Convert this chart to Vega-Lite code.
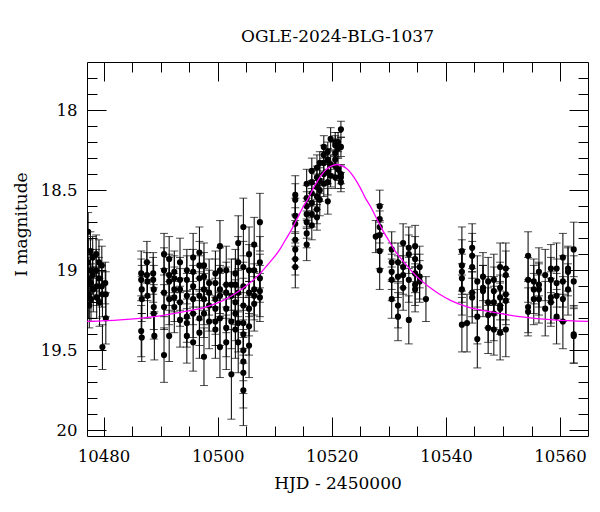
{
  "$schema": "https://vega.github.io/schema/vega-lite/v6.json",
  "autosize": {"type": "none"},
  "width": 501,
  "height": 374,
  "padding": {"left": 87, "top": 62, "right": 12, "bottom": 76},
  "background": "white",
  "title": {"text": "OGLE-2024-BLG-1037", "font": "DejaVu Serif", "fontSize": 17, "fontWeight": "normal", "color": "black", "anchor": "middle", "frame": "group", "baseline": "bottom", "offset": -1},
  "config": {
    "view": {"stroke": "black", "strokeWidth": 1},
    "axis": {"grid": false, "domain": false, "tickColor": "black", "tickWidth": 1, "labelFont": "DejaVu Serif", "labelFontSize": 16.5, "labelColor": "black", "labelFlush": false, "labelOverlap": false, "titleFont": "DejaVu Serif", "titleFontSize": 17, "titleFontWeight": "normal", "titleColor": "black"}
  },
  "datasets": {
    "obs": [
      {"t":10477.3,"m":18.76,"e":0.12},{"t":10477.3,"m":18.95,"e":0.14},{"t":10477.4,"m":19.05,"e":0.13},{"t":10477.4,"m":19.15,"e":0.15},{"t":10477.5,"m":19.22,"e":0.14},
      {"t":10477.7,"m":18.88,"e":0.12},{"t":10477.7,"m":19.00,"e":0.13},{"t":10477.8,"m":19.08,"e":0.12},{"t":10477.8,"m":19.18,"e":0.14},
      {"t":10478.1,"m":18.92,"e":0.13},{"t":10478.1,"m":19.03,"e":0.12},{"t":10478.2,"m":19.12,"e":0.14},
      {"t":10478.7,"m":18.90,"e":0.12},{"t":10478.7,"m":19.00,"e":0.13},{"t":10478.8,"m":19.10,"e":0.12},{"t":10478.8,"m":19.17,"e":0.13},
      {"t":10479.2,"m":18.95,"e":0.14},{"t":10479.2,"m":19.05,"e":0.13},{"t":10479.3,"m":19.20,"e":0.15},
      {"t":10479.7,"m":18.97,"e":0.12},{"t":10479.7,"m":19.10,"e":0.13},{"t":10479.8,"m":19.15,"e":0.14},{"t":10479.8,"m":19.48,"e":0.14},
      {"t":10480.3,"m":19.08,"e":0.13},{"t":10480.4,"m":19.15,"e":0.14},{"t":10480.4,"m":19.30,"e":0.16},
      {"t":10486.6,"m":19.02,"e":0.14},{"t":10486.6,"m":19.06,"e":0.13},{"t":10486.7,"m":19.12,"e":0.15},{"t":10486.7,"m":19.18,"e":0.14},{"t":10486.6,"m":19.38,"e":0.16},{"t":10486.7,"m":19.42,"e":0.15},
      {"t":10487.6,"m":18.95,"e":0.13},{"t":10487.6,"m":19.03,"e":0.14},{"t":10487.7,"m":19.07,"e":0.12},{"t":10487.7,"m":19.16,"e":0.14},
      {"t":10488.7,"m":19.02,"e":0.13},{"t":10488.7,"m":19.06,"e":0.14},{"t":10488.8,"m":19.12,"e":0.15},{"t":10488.8,"m":19.23,"e":0.14},{"t":10488.8,"m":19.27,"e":0.16},{"t":10488.9,"m":19.41,"e":0.15},
      {"t":10490.6,"m":18.90,"e":0.13},{"t":10490.6,"m":19.00,"e":0.14},{"t":10490.6,"m":19.14,"e":0.15},{"t":10490.6,"m":19.23,"e":0.14},{"t":10490.6,"m":19.53,"e":0.17},
      {"t":10491.5,"m":18.93,"e":0.14},{"t":10491.5,"m":19.03,"e":0.13},{"t":10491.5,"m":19.07,"e":0.15},{"t":10491.5,"m":19.18,"e":0.16},{"t":10491.5,"m":19.41,"e":0.16},
      {"t":10492.4,"m":19.01,"e":0.13},{"t":10492.4,"m":19.05,"e":0.14},{"t":10492.4,"m":19.12,"e":0.14},{"t":10492.4,"m":19.17,"e":0.15},{"t":10492.4,"m":19.23,"e":0.16},
      {"t":10493.4,"m":18.95,"e":0.15},{"t":10493.4,"m":19.06,"e":0.14},{"t":10493.4,"m":19.12,"e":0.13},{"t":10493.4,"m":19.20,"e":0.15},{"t":10493.4,"m":19.31,"e":0.17},
      {"t":10494.6,"m":19.00,"e":0.13},{"t":10494.6,"m":19.06,"e":0.15},{"t":10494.6,"m":19.16,"e":0.14},{"t":10494.6,"m":19.29,"e":0.16},{"t":10494.6,"m":19.33,"e":0.15},{"t":10494.6,"m":19.41,"e":0.17},
      {"t":10495.7,"m":18.92,"e":0.15},{"t":10495.7,"m":19.01,"e":0.14},{"t":10495.7,"m":19.10,"e":0.13},{"t":10495.7,"m":19.18,"e":0.16},{"t":10495.7,"m":19.27,"e":0.15},{"t":10495.7,"m":19.45,"e":0.18},
      {"t":10496.8,"m":18.89,"e":0.16},{"t":10496.8,"m":18.97,"e":0.15},{"t":10496.8,"m":19.05,"e":0.14},{"t":10496.8,"m":19.16,"e":0.15},{"t":10496.8,"m":19.30,"e":0.17},{"t":10496.8,"m":19.39,"e":0.16},
      {"t":10497.6,"m":18.97,"e":0.14},{"t":10497.6,"m":19.04,"e":0.15},{"t":10497.6,"m":19.12,"e":0.13},{"t":10497.6,"m":19.18,"e":0.16},{"t":10497.6,"m":19.27,"e":0.15},{"t":10497.6,"m":19.54,"e":0.18},
      {"t":10498.5,"m":19.08,"e":0.15},{"t":10498.5,"m":19.14,"e":0.14},{"t":10498.5,"m":19.22,"e":0.16},{"t":10498.5,"m":19.32,"e":0.17},
      {"t":10499.6,"m":19.02,"e":0.14},{"t":10499.6,"m":19.08,"e":0.15},{"t":10499.6,"m":19.18,"e":0.13},{"t":10499.6,"m":19.24,"e":0.16},{"t":10499.6,"m":19.32,"e":0.15},{"t":10499.6,"m":19.37,"e":0.18},
      {"t":10500.4,"m":18.85,"e":0.16},{"t":10500.4,"m":19.00,"e":0.14},{"t":10500.4,"m":19.12,"e":0.15},{"t":10500.4,"m":19.16,"e":0.14},{"t":10500.4,"m":19.30,"e":0.17},{"t":10500.4,"m":19.48,"e":0.19},
      {"t":10501.5,"m":19.00,"e":0.15},{"t":10501.5,"m":19.09,"e":0.14},{"t":10501.5,"m":19.14,"e":0.16},{"t":10501.5,"m":19.24,"e":0.15},{"t":10501.5,"m":19.36,"e":0.18},{"t":10501.5,"m":19.45,"e":0.17},
      {"t":10502.4,"m":19.09,"e":0.16},{"t":10502.4,"m":19.16,"e":0.15},{"t":10502.4,"m":19.32,"e":0.17},{"t":10502.4,"m":19.65,"e":0.28},
      {"t":10503.1,"m":19.02,"e":0.15},{"t":10503.1,"m":19.09,"e":0.16},{"t":10503.1,"m":19.20,"e":0.14},{"t":10503.1,"m":19.27,"e":0.17},{"t":10503.1,"m":19.37,"e":0.18},
      {"t":10503.6,"m":18.83,"e":0.17},{"t":10503.6,"m":18.95,"e":0.16},{"t":10503.6,"m":19.14,"e":0.15},{"t":10503.6,"m":19.33,"e":0.18},{"t":10503.6,"m":19.45,"e":0.19},
      {"t":10504.5,"m":18.73,"e":0.18},{"t":10504.5,"m":18.98,"e":0.16},{"t":10504.5,"m":19.10,"e":0.15},{"t":10504.5,"m":19.22,"e":0.17},{"t":10504.5,"m":19.33,"e":0.16},{"t":10504.5,"m":19.40,"e":0.18},{"t":10504.5,"m":19.50,"e":0.19},{"t":10504.5,"m":19.57,"e":0.20},{"t":10504.5,"m":19.64,"e":0.22},{"t":10504.5,"m":19.75,"e":0.22},
      {"t":10505.5,"m":18.90,"e":0.17},{"t":10505.5,"m":19.00,"e":0.16},{"t":10505.5,"m":19.14,"e":0.15},{"t":10505.5,"m":19.24,"e":0.17},{"t":10505.5,"m":19.35,"e":0.18},{"t":10505.5,"m":19.47,"e":0.20},
      {"t":10506.4,"m":18.84,"e":0.17},{"t":10506.4,"m":19.00,"e":0.15},{"t":10506.4,"m":19.12,"e":0.16},{"t":10506.4,"m":19.16,"e":0.15},{"t":10506.4,"m":19.21,"e":0.17},
      {"t":10507.4,"m":18.70,"e":0.18},{"t":10507.4,"m":18.95,"e":0.16},{"t":10507.4,"m":19.05,"e":0.15},{"t":10507.4,"m":19.13,"e":0.16},{"t":10507.4,"m":19.17,"e":0.15},
      {"t":10513.6,"m":18.53,"e":0.12},{"t":10513.6,"m":18.56,"e":0.10},{"t":10513.6,"m":18.66,"e":0.11},{"t":10513.6,"m":18.71,"e":0.10},{"t":10513.6,"m":18.81,"e":0.12},{"t":10513.6,"m":18.87,"e":0.11},{"t":10513.6,"m":18.93,"e":0.10},{"t":10513.6,"m":18.98,"e":0.13},
      {"t":10515.6,"m":18.46,"e":0.09},{"t":10515.6,"m":18.55,"e":0.08},{"t":10515.6,"m":18.60,"e":0.09},{"t":10515.6,"m":18.65,"e":0.08},{"t":10515.6,"m":18.70,"e":0.10},{"t":10515.6,"m":18.77,"e":0.09},{"t":10515.6,"m":18.84,"e":0.10},
      {"t":10516.5,"m":18.38,"e":0.08},{"t":10516.5,"m":18.45,"e":0.07},{"t":10516.5,"m":18.52,"e":0.08},{"t":10516.5,"m":18.58,"e":0.09},{"t":10516.5,"m":18.65,"e":0.08},{"t":10516.5,"m":18.72,"e":0.09},
      {"t":10517.4,"m":18.36,"e":0.08},{"t":10517.4,"m":18.42,"e":0.07},{"t":10517.4,"m":18.48,"e":0.08},{"t":10517.4,"m":18.54,"e":0.08},{"t":10517.4,"m":18.62,"e":0.09},{"t":10517.4,"m":18.67,"e":0.08},
      {"t":10517.9,"m":18.33,"e":0.07},{"t":10517.9,"m":18.44,"e":0.08},{"t":10517.9,"m":18.50,"e":0.07},{"t":10517.9,"m":18.56,"e":0.10},
      {"t":10518.6,"m":18.23,"e":0.07},{"t":10518.6,"m":18.28,"e":0.06},{"t":10518.6,"m":18.33,"e":0.07},{"t":10518.6,"m":18.40,"e":0.07},{"t":10518.6,"m":18.46,"e":0.08},
      {"t":10519.3,"m":18.26,"e":0.06},{"t":10519.3,"m":18.31,"e":0.07},{"t":10519.3,"m":18.39,"e":0.07},{"t":10519.3,"m":18.45,"e":0.08},{"t":10519.3,"m":18.57,"e":0.08},
      {"t":10519.8,"m":18.18,"e":0.07},{"t":10519.8,"m":18.34,"e":0.06},{"t":10519.8,"m":18.41,"e":0.07},
      {"t":10520.6,"m":18.20,"e":0.06},{"t":10520.6,"m":18.22,"e":0.06},{"t":10520.6,"m":18.27,"e":0.07},{"t":10520.6,"m":18.31,"e":0.06},{"t":10520.6,"m":18.35,"e":0.06},{"t":10520.6,"m":18.42,"e":0.07},
      {"t":10521.1,"m":18.20,"e":0.06},{"t":10521.1,"m":18.24,"e":0.06},{"t":10521.1,"m":18.37,"e":0.07},
      {"t":10521.6,"m":18.12,"e":0.05},{"t":10521.6,"m":18.23,"e":0.06},{"t":10521.6,"m":18.40,"e":0.06},{"t":10521.6,"m":18.42,"e":0.07},{"t":10521.6,"m":18.45,"e":0.06},
      {"t":10527.7,"m":18.79,"e":0.10},
      {"t":10528.4,"m":18.60,"e":0.10},{"t":10528.4,"m":18.68,"e":0.09},{"t":10528.4,"m":18.73,"e":0.10},{"t":10528.4,"m":18.78,"e":0.09},{"t":10528.4,"m":18.88,"e":0.11},{"t":10528.4,"m":19.00,"e":0.12},
      {"t":10530.5,"m":18.87,"e":0.11},{"t":10530.5,"m":18.95,"e":0.12},{"t":10530.5,"m":19.01,"e":0.11},{"t":10530.5,"m":19.06,"e":0.13},{"t":10530.5,"m":19.18,"e":0.12},
      {"t":10531.6,"m":18.95,"e":0.12},{"t":10531.6,"m":19.04,"e":0.13},{"t":10531.6,"m":19.22,"e":0.14},{"t":10531.6,"m":19.29,"e":0.15},
      {"t":10532.5,"m":18.83,"e":0.12},{"t":10532.5,"m":18.98,"e":0.13},{"t":10532.5,"m":19.03,"e":0.12},{"t":10532.5,"m":19.11,"e":0.14},
      {"t":10533.5,"m":18.86,"e":0.13},{"t":10533.5,"m":18.90,"e":0.12},{"t":10533.5,"m":19.06,"e":0.14},{"t":10533.5,"m":19.31,"e":0.15},
      {"t":10534.6,"m":18.85,"e":0.13},{"t":10534.6,"m":18.93,"e":0.14},{"t":10534.6,"m":19.02,"e":0.12},{"t":10534.6,"m":19.09,"e":0.13},{"t":10534.6,"m":19.12,"e":0.14},
      {"t":10535.4,"m":18.98,"e":0.13},{"t":10535.4,"m":19.04,"e":0.14},{"t":10535.4,"m":19.07,"e":0.13},
      {"t":10536.5,"m":19.18,"e":0.14},
      {"t":10542.8,"m":18.88,"e":0.15},{"t":10542.8,"m":18.97,"e":0.16},{"t":10542.8,"m":19.01,"e":0.14},{"t":10542.8,"m":19.05,"e":0.15},{"t":10542.8,"m":19.12,"e":0.16},{"t":10542.8,"m":19.34,"e":0.17},
      {"t":10543.7,"m":19.33,"e":0.18},
      {"t":10544.6,"m":18.86,"e":0.15},{"t":10544.6,"m":18.91,"e":0.14},{"t":10544.6,"m":18.98,"e":0.16},{"t":10544.6,"m":19.14,"e":0.15},{"t":10544.6,"m":19.17,"e":0.16},
      {"t":10545.5,"m":19.07,"e":0.16},{"t":10545.5,"m":19.29,"e":0.17},{"t":10545.5,"m":19.43,"e":0.18},
      {"t":10546.5,"m":19.04,"e":0.15},{"t":10546.5,"m":19.11,"e":0.14},{"t":10546.5,"m":19.13,"e":0.16},
      {"t":10547.4,"m":19.07,"e":0.15},{"t":10547.4,"m":19.20,"e":0.16},{"t":10547.4,"m":19.28,"e":0.17},{"t":10547.4,"m":19.36,"e":0.16},
      {"t":10548.4,"m":19.06,"e":0.16},{"t":10548.4,"m":19.13,"e":0.15},{"t":10548.4,"m":19.20,"e":0.16},{"t":10548.4,"m":19.27,"e":0.17},{"t":10548.4,"m":19.37,"e":0.16},
      {"t":10549.5,"m":18.98,"e":0.15},{"t":10549.5,"m":19.11,"e":0.16},{"t":10549.5,"m":19.17,"e":0.14},{"t":10549.5,"m":19.22,"e":0.15},{"t":10549.5,"m":19.24,"e":0.16},{"t":10549.5,"m":19.39,"e":0.17},
      {"t":10550.5,"m":18.99,"e":0.16},{"t":10550.5,"m":19.03,"e":0.15},{"t":10550.5,"m":19.15,"e":0.16},{"t":10550.5,"m":19.19,"e":0.15},{"t":10550.5,"m":19.37,"e":0.17},
      {"t":10554.4,"m":18.91,"e":0.15},{"t":10554.4,"m":19.06,"e":0.14},{"t":10554.4,"m":19.23,"e":0.16},{"t":10554.4,"m":19.26,"e":0.15},
      {"t":10555.4,"m":19.07,"e":0.14},{"t":10555.4,"m":19.12,"e":0.15},{"t":10555.4,"m":19.18,"e":0.16},
      {"t":10556.3,"m":19.01,"e":0.15},{"t":10556.3,"m":19.09,"e":0.14},{"t":10556.3,"m":19.12,"e":0.16},{"t":10556.3,"m":19.18,"e":0.15},
      {"t":10557.4,"m":19.03,"e":0.16},{"t":10557.4,"m":19.24,"e":0.17},
      {"t":10558.4,"m":18.99,"e":0.15},{"t":10558.4,"m":19.06,"e":0.14},{"t":10558.4,"m":19.17,"e":0.16},{"t":10558.4,"m":19.20,"e":0.15},
      {"t":10559.4,"m":18.99,"e":0.16},{"t":10559.4,"m":19.08,"e":0.15},{"t":10559.4,"m":19.16,"e":0.14},{"t":10559.4,"m":19.29,"e":0.17},
      {"t":10560.5,"m":18.92,"e":0.15},{"t":10560.5,"m":19.07,"e":0.16},{"t":10560.5,"m":19.18,"e":0.14},{"t":10560.5,"m":19.32,"e":0.17},
      {"t":10561.4,"m":18.99,"e":0.14},{"t":10561.4,"m":19.01,"e":0.15},{"t":10561.4,"m":19.12,"e":0.16},
      {"t":10562.4,"m":18.87,"e":0.17},{"t":10562.4,"m":19.07,"e":0.16},{"t":10562.4,"m":19.40,"e":0.18},{"t":10562.4,"m":19.41,"e":0.17}
    ],
    "model": [
      {"t":10477.1,"m":19.32},{"t":10482.9,"m":19.31},{"t":10488.9,"m":19.29},{"t":10493.9,"m":19.26},{"t":10497.9,"m":19.23},{"t":10500.9,"m":19.19},{"t":10502.9,"m":19.15},{"t":10504.9,"m":19.10},{"t":10506.9,"m":19.04},{"t":10508.9,"m":18.96},{"t":10510.9,"m":18.87},{"t":10511.9,"m":18.81},{"t":10512.9,"m":18.75},{"t":10513.9,"m":18.68},{"t":10514.9,"m":18.61},{"t":10515.9,"m":18.55},{"t":10516.9,"m":18.48},{"t":10517.9,"m":18.42},{"t":10518.9,"m":18.375},{"t":10519.9,"m":18.35},{"t":10520.9,"m":18.34},{"t":10521.9,"m":18.35},{"t":10522.9,"m":18.375},{"t":10523.9,"m":18.42},{"t":10524.9,"m":18.48},{"t":10525.9,"m":18.55},{"t":10526.9,"m":18.61},{"t":10527.9,"m":18.68},{"t":10528.9,"m":18.75},{"t":10529.9,"m":18.81},{"t":10530.9,"m":18.87},{"t":10532.9,"m":18.96},{"t":10534.9,"m":19.04},{"t":10536.9,"m":19.10},{"t":10538.9,"m":19.15},{"t":10540.9,"m":19.19},{"t":10543.9,"m":19.23},{"t":10547.9,"m":19.26},{"t":10552.9,"m":19.29},{"t":10558.9,"m":19.31},{"t":10564.9,"m":19.32}
    ]
  },
  "resolve": {"axis": {"x": "independent", "y": "independent"}},
  "layer": [
    {
      "data": {"name": "obs"},
      "mark": {"type": "errorbar", "color": "black", "clip": true, "ticks": {"size": 8, "color": "black"}, "rule": {"strokeWidth": 1}},
      "encoding": {
        "x": {"field": "t", "type": "quantitative", "scale": {"domain": [10477.1, 10564.9], "nice": false, "zero": false}, "axis": null},
        "y": {"field": "m", "type": "quantitative", "scale": {"domain": [17.7, 20.035], "nice": false, "zero": false, "reverse": true}, "axis": null},
        "yError": {"field": "e"}
      }
    },
    {
      "data": {"name": "obs"},
      "mark": {"type": "circle", "size": 38, "color": "black", "opacity": 1, "clip": true},
      "encoding": {
        "x": {"field": "t", "type": "quantitative", "scale": {"domain": [10477.1, 10564.9], "nice": false, "zero": false},
          "axis": {"orient": "bottom", "title": "HJD - 2450000", "values": [10480,10485,10490,10495,10500,10505,10510,10515,10520,10525,10530,10535,10540,10545,10550,10555,10560],
            "tickSize": {"condition": {"test": "datum.value % 20 === 0", "value": -19}, "value": -10},
            "labelExpr": "datum.value % 20 === 0 ? format(datum.value, 'd') : ''",
            "labelPadding": 31, "titleX": 250.5, "titleY": 52, "titleAlign": "center", "titleBaseline": "alphabetic"}},
        "y": {"field": "m", "type": "quantitative", "scale": {"domain": [17.7, 20.035], "nice": false, "zero": false, "reverse": true},
          "axis": {"orient": "left", "title": "I magnitude", "values": [17.8,17.9,18,18.1,18.2,18.3,18.4,18.5,18.6,18.7,18.8,18.9,19,19.1,19.2,19.3,19.4,19.5,19.6,19.7,19.8,19.9,20],
            "tickSize": {"condition": {"test": "abs(datum.value*2 - round(datum.value*2)) < 0.01", "value": -19}, "value": -10},
            "labelExpr": "abs(datum.value*2 - round(datum.value*2)) < 0.01 ? format(datum.value, '~g') : ''",
            "labelPadding": 29, "titleX": -66, "titleY": 162, "titleAngle": 270, "titleAlign": "center", "titleBaseline": "middle"}}
      }
    },
    {
      "data": {"name": "model"},
      "mark": {"type": "line", "color": "#ff00ff", "strokeWidth": 1.3, "interpolate": "monotone", "clip": true},
      "encoding": {
        "x": {"field": "t", "type": "quantitative", "scale": {"domain": [10477.1, 10564.9], "nice": false, "zero": false},
          "axis": {"orient": "top", "title": null, "labels": false, "values": [10480,10485,10490,10495,10500,10505,10510,10515,10520,10525,10530,10535,10540,10545,10550,10555,10560],
            "tickSize": {"condition": {"test": "datum.value % 20 === 0", "value": -19}, "value": -10}}},
        "y": {"field": "m", "type": "quantitative", "scale": {"domain": [17.7, 20.035], "nice": false, "zero": false, "reverse": true},
          "axis": {"orient": "right", "title": null, "labels": false, "values": [17.8,17.9,18,18.1,18.2,18.3,18.4,18.5,18.6,18.7,18.8,18.9,19,19.1,19.2,19.3,19.4,19.5,19.6,19.7,19.8,19.9,20],
            "tickSize": {"condition": {"test": "abs(datum.value*2 - round(datum.value*2)) < 0.01", "value": -19}, "value": -10}}}
      }
    }
  ]
}
